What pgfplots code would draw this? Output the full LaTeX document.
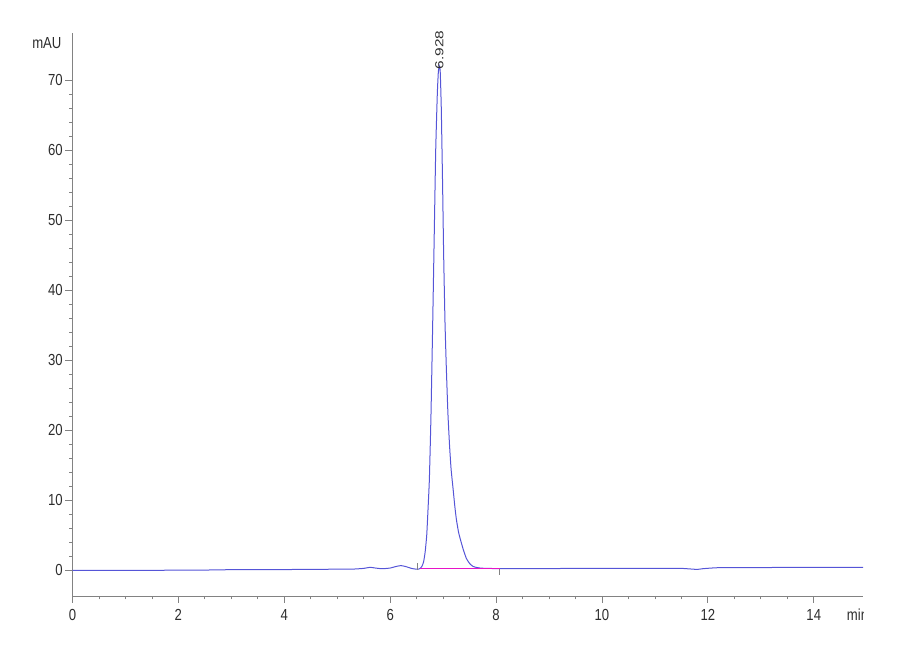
\documentclass[border=0pt]{standalone}
\usepackage{fontspec}
\setmainfont{Liberation Sans}[FakeStretch=0.82]
\newfontfamily\peakfont{Liberation Sans}[FakeStretch=1.33]
\usepackage{pgfplots}
\pgfplotsset{compat=1.18}
\definecolor{trace}{RGB}{85,85,215}
\definecolor{base}{RGB}{230,20,200}
\definecolor{axgray}{RGB}{130,130,130}
\definecolor{txt}{RGB}{45,45,45}
\begin{document}
\begin{tikzpicture}
\path[use as bounding box] (0pt,0pt) rectangle (675pt,495pt);
\begin{axis}[
  at={(54.375pt,48pt)}, anchor=south west,
  scale only axis, width=592.875pt, height=422.25pt,
  xmin=0, xmax=14.93, ymin=-3.64, ymax=76.7,
  axis x line*=bottom, axis y line*=left,
  x axis line style={-, axgray, line width=0.6pt},
  y axis line style={-, axgray, line width=0.6pt},
  xtick={0,2,...,14}, ytick={0,10,...,70},
  minor x tick num=3, minor y tick num=4,
  tick align=outside,
  major tick length=5.25pt, minor tick length=2.6pt,
  every tick/.style={axgray, line width=0.6pt},
  tick label style={font=\fontsize{12}{14}\selectfont, text=txt},
  yticklabel style={xshift=1.5pt},
  xticklabel style={yshift=-1pt},
  /pgf/number format/assume math mode=true,
  clip=false,
]
\addplot[trace, line width=0.75pt, smooth, tension=0.3] coordinates {
(0,0.0)(0.5,0.02)(1,0.03)(1.5,0.03)(2,0.04)(2.5,0.06)(2.8,0.1)(3.2,0.12)(3.6,0.12)(4,0.13)(4.5,0.17)(5,0.18)(5.3,0.2)(5.5,0.3)(5.62,0.45)(5.72,0.35)(5.85,0.25)(6.0,0.35)(6.1,0.55)(6.2,0.7)(6.3,0.55)(6.4,0.3)(6.5,0.18)(6.55,0.22)
(6.58,0.4)(6.60,0.6)(6.63,1.2)(6.66,2.6)(6.69,5.0)(6.71,8.0)(6.74,13)(6.77,22)(6.80,34)(6.83,47)(6.86,60)(6.89,68)(6.91,71.2)(6.928,72)
(6.945,71.2)(6.965,66)(6.99,55)(7.01,45)(7.035,35.5)(7.06,29)(7.09,22.5)(7.12,18)(7.15,14.5)(7.19,11.5)(7.22,9.2)(7.25,7.3)(7.29,5.5)(7.32,4.6)(7.38,3.0)(7.44,1.7)(7.50,1.0)(7.56,0.6)(7.62,0.45)(7.7,0.35)(7.8,0.3)
(8,0.28)(9,0.28)(10,0.3)(11,0.3)(11.5,0.3)(11.8,0.15)(11.9,0.25)(12.2,0.4)(13,0.42)(14,0.45)(14.93,0.45)
};
\addplot[base, line width=0.75pt] coordinates {(6.56,0.28)(8.08,0.28)};
\addplot[axgray, line width=0.5pt] coordinates {(6.51,0.1)(6.51,1.1)};
\addplot[axgray, line width=0.5pt] coordinates {(8.07,-0.6)(8.07,0.2)};
\node[rotate=90, anchor=west, inner sep=0pt, text=txt, font=\peakfont\fontsize{8.7}{10}\selectfont] at (axis cs:6.928,71.5) {6.928};
\end{axis}
\node[anchor=east, inner sep=0pt, text=txt, font=\fontsize{12}{14}\selectfont] at (46.3pt,463pt) {mAU};
\begin{scope}
\clip (0pt,0pt) rectangle (647.5pt,495pt);
\node[anchor=west, inner sep=0pt, text=txt, font=\fontsize{12}{14}\selectfont] at (635pt,33.75pt) {min};
\end{scope}
\end{tikzpicture}
\end{document}
